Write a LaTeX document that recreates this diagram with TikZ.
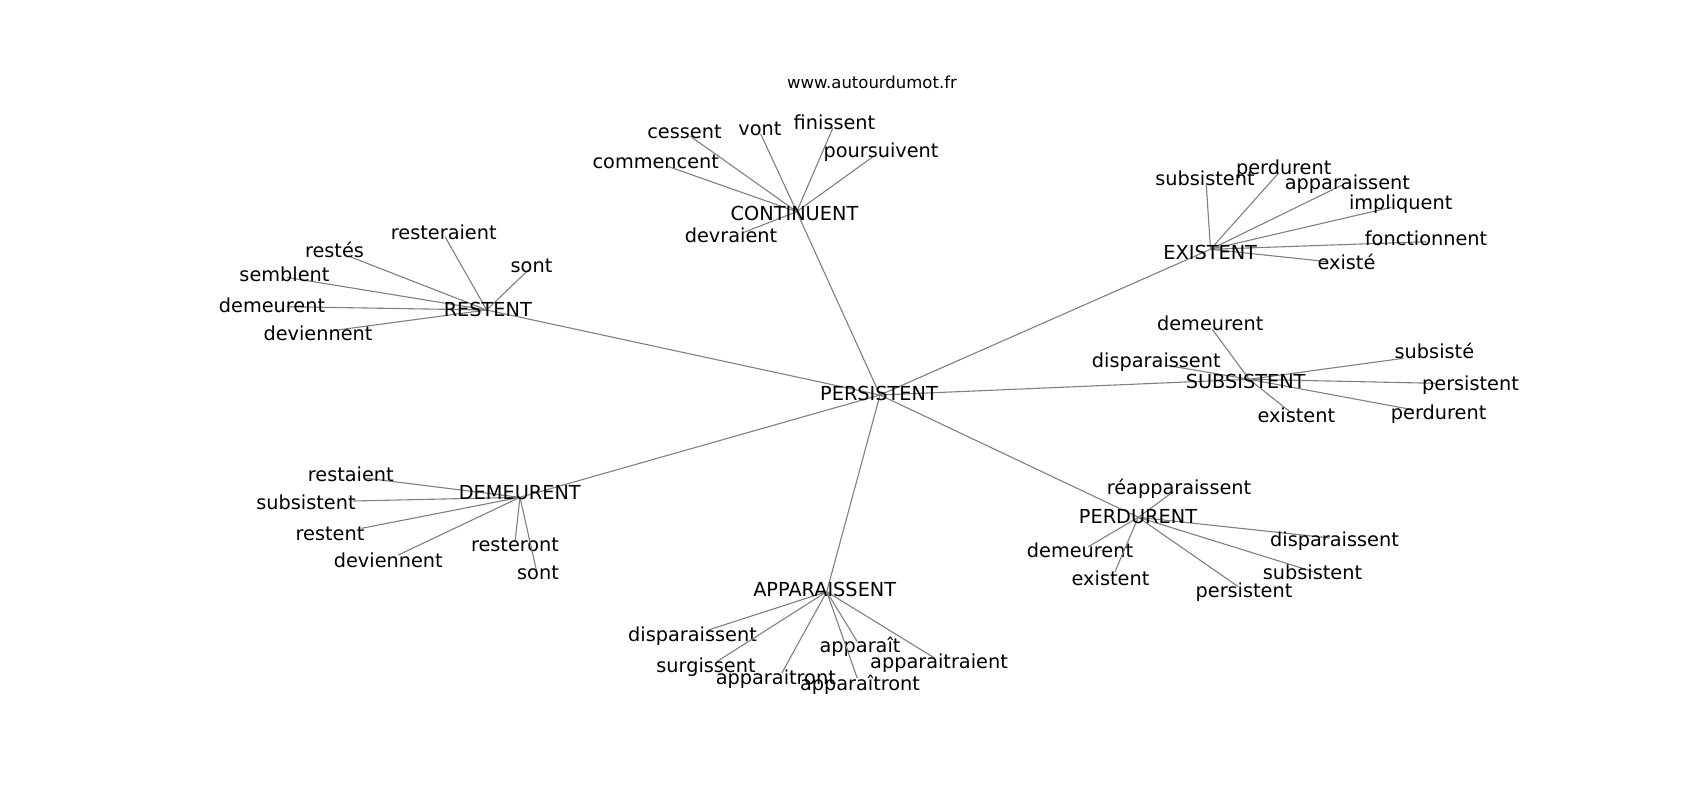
\documentclass[tikz,border=0pt]{standalone}
\usepackage{fontspec}
\setmainfont{DejaVu Sans}
\definecolor{edgegray}{RGB}{128,128,128}
\tikzset{
  lab/.style={inner sep=0pt, text height=0.55em, text depth=0pt, yshift=-4.5pt, font=\fontsize{19.3}{22}\selectfont},
  hublab/.style={inner sep=0pt, text height=0.73em, text depth=0pt, yshift=-4.5pt, font=\fontsize{19.3}{22}\selectfont},
  urllab/.style={inner sep=0pt, text height=0.55em, text depth=0pt, yshift=-3.5pt, font=\fontsize{16.5}{19}\selectfont},
  edge/.style={draw=edgegray, line width=1.1pt}
}
\newcommand\leafw[5]{\coordinate (#1) at (#4); \draw[edge] (#2) -- (#1); \node[lab] (t#1) at (#3) {#5};}
\begin{document}
\begin{tikzpicture}[x=1pt,y=-1pt]
\useasboundingbox[fill=white] (0,0) rectangle (1700,800);
% hub points
\coordinate (p) at (880,395);
\coordinate (c) at (796.7,211.7);
\coordinate (e) at (1210.5,249.3);
\coordinate (s) at (1249.1,379.3);
\coordinate (pd) at (1138.3,517.3);
\coordinate (a) at (826.7,591.7);
\coordinate (d) at (520,497.3);
\coordinate (r) at (486.7,310);
\foreach \h in {c,e,s,pd,a,d,r} {\draw[edge] (p) -- (\h);}
% CONTINUENT
\leafw{c1}{c}{684.5,131}{690,136}{cessent}
\leafw{c2}{c}{760,128}{760.7,134}{vont}
\leafw{c3}{c}{834.5,122.7}{832.7,128.3}{finissent}
\leafw{c4}{c}{881,150}{873,156.7}{poursuivent}
\leafw{c5}{c}{655.8,161}{666.7,166}{commencent}
\leafw{c6}{c}{731,235.7}{743,232.7}{devraient}
% EXISTENT
\leafw{e1}{e}{1205,178.3}{1206.3,185}{subsistent}
\leafw{e2}{e}{1283.7,167.3}{1278.9,172.7}{perdurent}
\leafw{e3}{e}{1347.4,182.3}{1342.1,185}{apparaissent}
\leafw{e4}{e}{1400.7,202.7}{1391.2,207.3}{impliquent}
\leafw{e5}{e}{1426.1,238.3}{1426.3,241.7}{fonctionnent}
\leafw{e6}{e}{1346.5,262.7}{1328.1,261.7}{existé}
% SUBSISTENT
\leafw{s1}{s}{1210.2,323.3}{1212.3,329.3}{demeurent}
\leafw{s2}{s}{1156.3,360.7}{1164.9,365}{disparaissent}
\leafw{s3}{s}{1434.4,351.7}{1403.5,358.3}{subsisté}
\leafw{s4}{s}{1470.5,383.3}{1435.1,383.3}{persistent}
\leafw{s5}{s}{1438.6,412.7}{1414,410}{perdurent}
\leafw{s6}{s}{1296.3,415}{1291.2,412.7}{existent}
% RESTENT
\leafw{r1}{r}{443.8,232.7}{445,236.7}{resteraient}
\leafw{r2}{r}{334.5,250.7}{350,256.7}{restés}
\leafw{r3}{r}{531.5,265}{528.3,270}{sont}
\leafw{r4}{r}{284.5,274.3}{286.7,277.3}{semblent}
\leafw{r5}{r}{272,305}{286.7,306.7}{demeurent}
\leafw{r6}{r}{318,333}{330,331}{deviennent}
% DEMEURENT
\leafw{d1}{d}{350.8,474}{366.7,478.3}{restaient}
\leafw{d2}{d}{306,502.7}{353.3,501}{subsistent}
\leafw{d3}{d}{330,533.5}{361.7,528.3}{restent}
\leafw{d4}{d}{388.3,560}{398.3,555}{deviennent}
\leafw{d5}{d}{515,544}{515,541.7}{resteront}
\leafw{d6}{d}{538,572.3}{536.7,571.7}{sont}
% PERDURENT
\leafw{q1}{pd}{1179,487.3}{1173.3,491.7}{réapparaissent}
\leafw{q2}{pd}{1080,550.5}{1088.3,546.7}{demeurent}
\leafw{q3}{pd}{1110.5,578.3}{1115,571.7}{existent}
\leafw{q4}{pd}{1334.5,539.3}{1330,538}{disparaissent}
\leafw{q5}{pd}{1312.5,572.3}{1313.3,571.7}{subsistent}
\leafw{q6}{pd}{1244,590.7}{1238.3,586.7}{persistent}
% APPARAISSENT
\leafw{a1}{a}{692.5,634}{708.3,630}{disparaissent}
\leafw{a2}{a}{706,665}{716.7,661.7}{surgissent}
\leafw{a3}{a}{775.8,677.7}{781.7,673.3}{apparaitront}
\leafw{a4}{a}{860,645.7}{857.3,641.7}{apparaît}
\leafw{a5}{a}{860,683.3}{857.3,678.3}{apparaîtront}
\leafw{a6}{a}{939,661}{935,658.3}{apparaitraient}
% hub labels
\node[hublab] (tp) at (879,392) {PERSISTENT};
\node[hublab] (tc) at (794.5,212) {CONTINUENT};
\node[hublab] (te) at (1210.2,251.7) {EXISTENT};
\node[hublab] (ts) at (1245.6,380) {SUBSISTENT};
\node[hublab] (tpd) at (1138,515) {PERDURENT};
\node[hublab] (ta) at (824.7,588.3) {APPARAISSENT};
\node[hublab] (td) at (519.8,491.7) {DEMEURENT};
\node[hublab] (tr) at (487.8,308.3) {RESTENT};
\node[urllab] (url) at (872,82.7) {www.autourdumot.fr};
\end{tikzpicture}
\end{document}
